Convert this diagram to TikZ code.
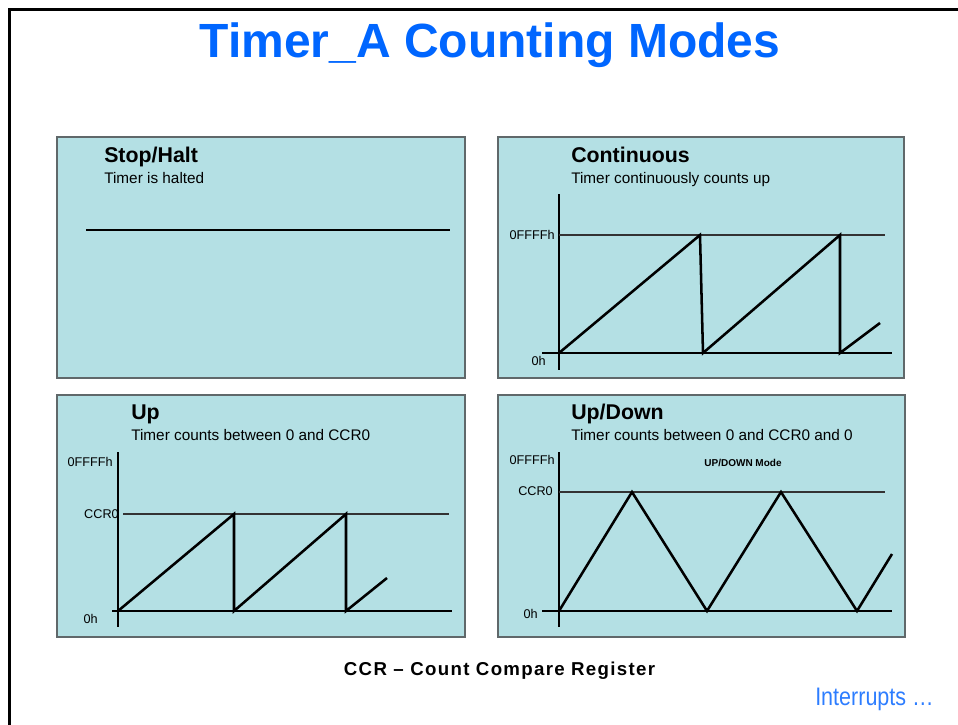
\documentclass[tikz,border=0pt]{standalone}
\usepackage{fontspec}
\setmainfont{Liberation Sans}
\usetikzlibrary{positioning}

\definecolor{titleblue}{RGB}{0,102,255}
\definecolor{linkblue}{RGB}{45,125,255}
\definecolor{panelfill}{RGB}{180,224,228}
\definecolor{panelrim}{RGB}{96,104,106}

\tikzset{
  panel/.style={fill=panelfill, draw=panelrim, line width=1.1pt},
  axis/.style={line width=0.8pt},
  level/.style={line width=0.8pt, draw=black!80},
  wave/.style={line width=1.9pt, line join=miter},
  heading/.style={anchor=base west, inner sep=0pt, font=\fontsize{16}{19}\selectfont\bfseries},
  caption/.style={anchor=base west, inner sep=0pt, font=\fontsize{11.5}{14}\selectfont},
  tick/.style={anchor=east, inner sep=0pt, font=\fontsize{9.5}{11}\selectfont},
}

\begin{document}
\begin{tikzpicture}[x=0.75pt, y=-0.75pt]
  \useasboundingbox (0,0) rectangle (958,725);
  \draw[line width=2.25pt] (9,725) -- (9,9) -- (958,9);
  \node[anchor=base, inner sep=0pt, text=titleblue, font=\fontsize{36}{43}\selectfont\bfseries] (title) at (490,57) {Timer\_A Counting Modes};

  % Stop/Halt
  \draw[panel] (57,137) rectangle (465,378);
  \node[heading] (halt) at (104,162) {Stop/Halt};
  \node[caption] (haltnote) at (104,183) {Timer is halted};
  \draw[wave] (86,230) -- (450,230);

  % Continuous
  \draw[panel] (498,137) rectangle (904,378);
  \node[heading] (cont) at (571,162) {Continuous};
  \node[caption] (contnote) at (571,183) {Timer continuously counts up};
  \draw[axis] (559,194) -- (559,370);
  \draw[axis] (542,353) -- (892,353);
  \draw[level] (559,235) -- (885,235);
  \node[tick] (contmax) at (555,235) {0FFFFh};
  \node[tick] (contmin) at (546,361) {0h};
  \draw[wave] (559,353) -- (700,235) -- (703,353) -- (840,235) -- (840,353) -- (880,323);

  % Up
  \draw[panel] (57,395) rectangle (465,637);
  \node[heading] (up) at (131,419) {Up};
  \node[caption] (upnote) at (131,440) {Timer counts between 0 and CCR0};
  \draw[axis] (118,452) -- (118,627);
  \draw[axis] (112,611) -- (452,611);
  \draw[level] (123,514) -- (449,514);
  \node[tick] (upmax) at (113,462) {0FFFFh};
  \node[tick] (upccr) at (119,514) {CCR0};
  \node[tick] (upmin) at (98,619) {0h};
  \draw[wave] (118,611) -- (234,514) -- (234,611) -- (346,514) -- (346,611) -- (387,578);

  % Up/Down
  \draw[panel] (498,395) rectangle (905,637);
  \node[heading] (updown) at (571,419) {Up/Down};
  \node[caption] (updownnote) at (571,440) {Timer counts between 0 and CCR0 and 0};
  \draw[axis] (559,452) -- (559,627);
  \draw[axis] (542,611) -- (892,611);
  \draw[level] (559,492) -- (885,492);
  \node[tick] (udmax) at (555,460) {0FFFFh};
  \node[tick] (udccr) at (553,491) {CCR0};
  \node[tick] (udmin) at (538,614) {0h};
  \node[inner sep=0pt, font=\fontsize{7.5}{9}\selectfont\bfseries] (udmode) at (743,463) {UP/DOWN Mode};
  \draw[wave] (559,611) -- (632,492) -- (707,611) -- (781,492) -- (857,611) -- (892,554);

  \node[anchor=base, inner sep=0pt, font=\fontsize{14}{17}\selectfont\bfseries\addfontfeature{LetterSpace=7}] (ccr) at (499.5,675) {CCR -- Count Compare Register};
  \node[anchor=base east, inner sep=0pt, text=linkblue] (next) at (934,705) {\scalebox{0.85}[1]{\fontsize{19}{23}\selectfont Interrupts \ldots}};
\end{tikzpicture}
\end{document}
